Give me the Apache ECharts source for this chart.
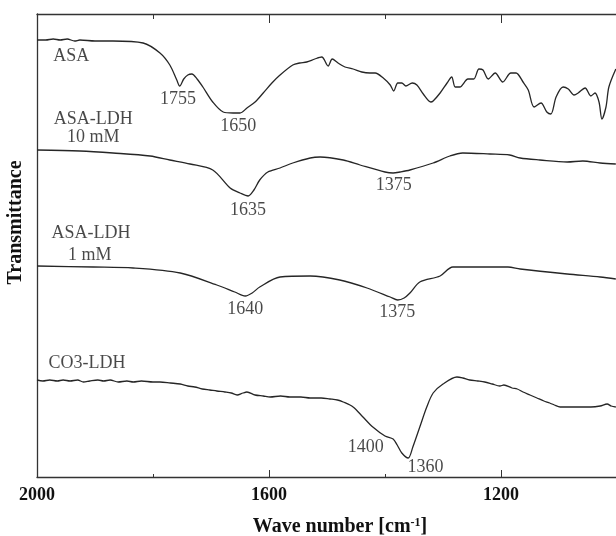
<!DOCTYPE html>
<html>
<head>
<meta charset="UTF-8">
<title>FTIR spectra</title>
<style>
  html, body { margin: 0; padding: 0; background: #fff; }
  #box { width: 616px; height: 536px; }
</style>
<script src="https://cdn.jsdelivr.net/npm/echarts@6/dist/echarts.min.js"></script>
</head>
<body>
<div id="box"></div>
<script>
// [wave number cm-1, transmittance (a.u., spectra stacked with offsets)]
var asa = [
  [2000, 437], [1985, 437], [1972, 438], [1960, 437], [1948, 438], [1935, 436], [1926, 437],
  [1900, 436], [1869, 436], [1817, 434], [1788, 424], [1771, 412], [1759, 397], [1754, 391],
  [1747, 398], [1740, 402], [1733, 403], [1724, 398], [1714, 390], [1697, 375], [1679, 365],
  [1662, 364], [1650, 364], [1638, 369], [1624, 375], [1610, 384], [1595, 394], [1581, 402],
  [1559, 412], [1547, 414], [1535, 415], [1521, 418], [1509, 420], [1498, 411], [1491, 418],
  [1481, 414], [1469, 410], [1455, 408], [1440, 405], [1426, 404], [1417, 404], [1403, 399],
  [1391, 392], [1385, 386], [1378, 394], [1371, 394], [1364, 391], [1353, 394], [1345, 392],
  [1334, 383], [1321, 375], [1317, 376], [1305, 384], [1293, 394], [1285, 400], [1279, 390],
  [1271, 390], [1257, 398], [1247, 398], [1238, 408], [1231, 407], [1222, 398], [1210, 404],
  [1197, 395], [1183, 404], [1174, 404], [1162, 395], [1153, 387], [1143, 370], [1131, 374],
  [1121, 365], [1114, 363], [1105, 380], [1093, 390], [1084, 388], [1074, 382], [1067, 384],
  [1055, 389], [1045, 381], [1038, 384], [1031, 375], [1026, 358], [1019, 370], [1014, 390],
  [1002, 408]
];
var asaLdh10 = [
  [2000, 327], [1926, 326], [1869, 324], [1805, 321], [1771, 317], [1736, 313], [1697, 307],
  [1667, 289], [1650, 284], [1636, 281], [1626, 287], [1616, 297], [1602, 305], [1581, 309],
  [1559, 314], [1529, 319], [1512, 320], [1472, 317], [1443, 312], [1400, 305], [1386, 304],
  [1374, 305], [1357, 307], [1317, 314], [1288, 321], [1266, 324], [1219, 323], [1185, 322],
  [1167, 319], [1133, 317], [1086, 315], [1059, 316], [1029, 314], [1002, 313]
];
var asaLdh1 = [
  [2000, 211], [1903, 210], [1834, 209], [1753, 204], [1690, 192], [1659, 185], [1641, 181],
  [1629, 184], [1616, 190], [1581, 200], [1529, 201], [1478, 197], [1431, 189], [1391, 180],
  [1378, 177], [1367, 179], [1357, 184], [1340, 195], [1305, 201], [1283, 210], [1188, 210],
  [1167, 208], [1086, 203], [1029, 200], [1002, 198]
];
var co3Ldh = [
  [2000, 97], [1990, 96], [1978, 97], [1965, 96], [1955, 97], [1943, 96], [1930, 97], [1920, 95],
  [1909, 96], [1895, 97], [1885, 96], [1874, 97], [1860, 95], [1845, 96], [1834, 95], [1820, 96],
  [1800, 95], [1788, 95], [1770, 94], [1753, 93], [1740, 91], [1728, 90], [1715, 88], [1702, 87],
  [1690, 86], [1676, 85], [1665, 84], [1655, 82], [1645, 84], [1638, 85], [1624, 82], [1610, 81],
  [1598, 80], [1580, 81], [1564, 80], [1545, 80], [1529, 79], [1510, 79], [1495, 78], [1482, 77],
  [1472, 75], [1455, 70], [1438, 60], [1421, 50], [1400, 41], [1386, 38], [1379, 32], [1371, 24],
  [1360, 19], [1352, 30], [1340, 50], [1328, 70], [1317, 84], [1300, 93], [1276, 100], [1266, 99],
  [1254, 97], [1240, 96], [1228, 95], [1215, 93], [1202, 91], [1195, 92], [1181, 89], [1172, 88],
  [1162, 85], [1150, 82], [1138, 79], [1126, 76], [1116, 74], [1108, 72], [1098, 70], [1080, 70],
  [1064, 70], [1045, 70], [1029, 71], [1017, 73], [1010, 71], [1002, 70]
];

// annotations: [wave number, transmittance, text]
var annotations = [
  [1941, 421, 'ASA'],
  [1903, 358, 'ASA-LDH'], [1903, 340, '10 mM'],
  [1907, 244, 'ASA-LDH'], [1909, 222, '1 mM'],
  [1914, 114, 'CO3-LDH'],
  [1757, 378, '1755'], [1653, 351, '1650'],
  [1636, 267, '1635'], [1385, 292, '1375'],
  [1641, 168, '1640'], [1379, 165, '1375'],
  [1433, 30, '1400'], [1330, 10, '1360']
];

var serif = '"Liberation Serif", "DejaVu Serif", serif';
var lineColor = '#262626';

var chart = echarts.init(document.getElementById('box'));

function spectrum(name, data) {
  return {
    name: name,
    type: 'line',
    xAxisIndex: 0,
    data: data,
    showSymbol: false,
    smooth: 0.3,
    lineStyle: { color: lineColor, width: 1.3 },
    silent: true
  };
}

var option = {
  animation: false,
  backgroundColor: '#fff',
  grid: { left: 37, top: 14, width: 580, height: 463, containLabel: false, outerBoundsMode: 'none' },
  xAxis: [
    {
      type: 'value', position: 'bottom', min: 1000, max: 2000, inverse: true, interval: 200,
      axisLine: { lineStyle: { color: '#333', width: 1.3 } },
      axisTick: { inside: true, length: 3, lineStyle: { color: '#333' } },
      splitLine: { show: false },
      axisLabel: {
        margin: 9, color: '#111', fontFamily: serif, fontWeight: 'bold', fontSize: 18,
        formatter: function (v) { return v % 400 === 0 ? v : ''; }
      },
      name: '{b|Wave number [cm}{s|-1}{b|]}',
      nameLocation: 'middle',
      nameGap: 40,
      nameTextStyle: {
        padding: [0, 0, 0, 26],
        rich: {
          b: { fontFamily: serif, fontWeight: 'bold', fontSize: 20, color: '#111' },
          s: { fontFamily: serif, fontWeight: 'bold', fontSize: 12, color: '#111', verticalAlign: 'top', padding: [0, 0, 8, 0] }
        }
      }
    },
    {
      type: 'value', position: 'bottom', min: -2000, max: -1000, interval: 400,
      axisLine: { show: false },
      axisTick: { inside: true, length: 7, lineStyle: { color: '#333' } },
      axisLabel: { show: false }, splitLine: { show: false }
    },
    {
      type: 'value', position: 'top', min: 1000, max: 2000, inverse: true, interval: 200,
      axisLine: { lineStyle: { color: '#333', width: 1.3 } },
      axisTick: { inside: true, length: 5, lineStyle: { color: '#333' } },
      axisLabel: { show: false }, splitLine: { show: false }
    },
    {
      type: 'value', position: 'top', min: -2000, max: -1000, interval: 400,
      axisLine: { show: false },
      axisTick: { inside: true, length: 9, lineStyle: { color: '#333' } },
      axisLabel: { show: false }, splitLine: { show: false }
    }
  ],
  yAxis: {
    type: 'value', min: 0, max: 463,
    axisLine: { show: true, lineStyle: { color: '#333', width: 1.3 } },
    axisTick: { show: false },
    axisLabel: { show: false },
    splitLine: { show: false },
    name: 'Transmittance',
    nameLocation: 'middle',
    nameGap: 11,
    nameTextStyle: {
      fontFamily: serif, fontWeight: 'bold', fontSize: 20, color: '#111',
      padding: [0, 0, 0, 46]
    }
  },
  series: [
    spectrum('ASA', asa),
    spectrum('ASA-LDH 10 mM', asaLdh10),
    spectrum('ASA-LDH 1 mM', asaLdh1),
    spectrum('CO3-LDH', co3Ldh),
    {
      name: 'labels',
      type: 'scatter',
      xAxisIndex: 0,
      silent: true,
      symbolSize: 1,
      itemStyle: { color: 'rgba(0,0,0,0)' },
      data: annotations.map(function (a) { return { value: [a[0], a[1]], name: a[2] }; }),
      label: {
        show: true, position: 'inside', formatter: '{b}',
        fontFamily: serif, fontSize: 18, color: '#1a1a1a'
      }
    }
  ]
};

chart.setOption(option);
</script>
</body>
</html>
